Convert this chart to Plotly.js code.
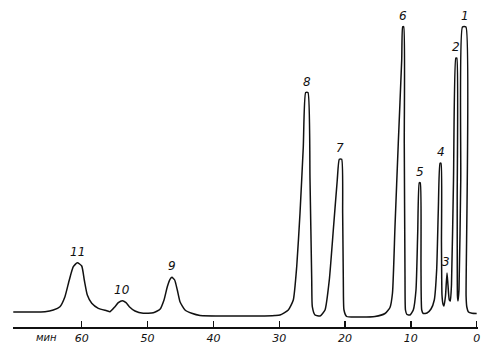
<!DOCTYPE html>
<html>
<head>
<meta charset="utf-8">
<script src="https://cdn.plot.ly/plotly-3.0.1.min.js"></script>
<style>
html,body{margin:0;padding:0;background:#fff;}
#chart{width:493px;height:349px;}
</style>
</head>
<body>
<div id="chart"></div>
<script>
// Retention time (min) of the traced detector signal
var timeMin = [70.4, 67.86, 65.58, 64.32, 63.31, 62.55, 61.89, 61.28, 60.67, 60.0, 59.61, 59.15, 58.48, 57.48, 56.21, 55.70,
  54.95, 54.44, 53.83, 53.27, 52.77, 51.91, 50.65, 49.13, 48.11, 47.50, 47.0, 46.59, 46.29, 45.88, 45.48, 45.07, 44.31,
  43.29, 42.03, 37.47, 32.92, 30.64, 29.88, 28.62, 27.86, 27.34, 26.84, 26.34, 25.98, 25.63, 25.32, 25.06, 24.97, 24.56,
  23.80, 23.04, 22.39, 21.78, 21.18, 20.87, 20.51, 20.36, 20.26, 20.16, 19.75, 17.73, 15.45, 13.93, 13.17, 12.79, 12.41,
  11.91, 11.39, 11.24, 11.09, 11.0, 10.89, 10.82, 10.59, 10.13, 9.63, 9.22, 8.96, 8.72, 8.57, 8.46, 8.35, 8.11, 7.55,
  6.94, 6.44, 6.08, 5.83, 5.57, 5.42, 5.35, 5.27, 5.12, 4.97, 4.74, 4.51, 4.36, 4.16, 4.01, 3.83, 3.52, 3.17, 3.02,
  2.96, 2.92, 2.84, 2.69, 2.42, 2.16, 1.63, 1.61, 1.50, 1.25, 0.71, 0.0];
// Detector signal (arbitrary units)
var signal = [15, 15, 15.3, 17, 20.3, 30.3, 47, 60.3, 64.3, 61, 47, 32, 23.7, 18.7, 16.3, 15.3,
  20.3, 24.3, 26.3, 24.3, 20.3, 16, 13.7, 14.3, 17.7, 27, 40.3, 47.7, 49.7, 47, 37, 25.3, 17,
  13.7, 11.5, 11, 11, 11.5, 12, 17, 27, 60.3, 113.7, 180.3, 234.5, 234.5, 147, 47, 20.3, 12,
  11, 17, 47, 97, 147, 167.7, 167.7, 113.7, 47, 17, 10.5, 10, 10.5, 13.5, 19.5, 34, 100.3,
  183.7, 267, 300.3, 300.3, 183.7, 50.3, 17, 12.5, 12, 17, 37, 93.7, 144.3, 144.3, 60.3, 17, 13.5, 14,
  18, 27, 57, 117, 163.7, 163.7, 84, 32, 23, 21, 31, 54, 42, 27, 26, 42, 147, 269, 269,
  127, 31, 26, 37, 147, 300, 300, 31, 20, 15, 13.7, 13.5];

// Peak numbers and apex positions
var peakLabels = ['1', '2', '3', '4', '5', '6', '7', '8', '9', '10', '11'];
var peakTimes = [1.85, 3.12, 4.6, 5.47, 8.65, 11.17, 20.7, 25.8, 46.3, 53.85, 60.67];
var peakHeights = [300, 269, 54, 164, 144, 300, 168, 234.5, 50, 26.3, 64.3];

// Axis ticks
var tickVals = [60, 50, 40, 30, 20, 10, 0];
var tickText = ['60', '50', '40', '30', '20', '10', '0'];
var unitLabel = 'мин';

var FONT = 'DejaVu Sans, Liberation Sans, sans-serif';

var annotations = peakLabels.map(function (lab, i) {
  return {
    x: peakTimes[i], y: peakHeights[i], xref: 'x', yref: 'y',
    text: lab, showarrow: false, yanchor: 'middle', yshift: 11,
    font: {family: FONT, size: 12, color: '#111', style: 'italic'}
  };
});
annotations.push({
  x: 0.045, y: 0, xref: 'paper', yref: 'paper', yanchor: 'top', yshift: -3,
  text: unitLabel, showarrow: false,
  font: {family: FONT, size: 10, color: '#111', style: 'italic'}
});

var trace = {
  x: timeMin, y: signal, type: 'scatter', mode: 'lines',
  line: {color: '#111', width: 1.5, shape: 'spline', smoothing: 0.5},
  hoverinfo: 'skip'
};

var layout = {
  width: 493, height: 349,
  margin: {l: 13, r: 15, t: 10, b: 22, pad: 0},
  paper_bgcolor: '#fff', plot_bgcolor: '#fff',
  showlegend: false,
  xaxis: {
    range: [70.44, -0.2], autorange: false,
    tickmode: 'array', tickvals: tickVals, ticktext: tickText,
    ticks: 'inside', ticklen: 6, tickwidth: 1.3, tickcolor: '#111',
    showline: true, linecolor: '#111', linewidth: 1.6,
    showgrid: false, zeroline: false,
    tickfont: {family: FONT, size: 11, color: '#111', style: 'italic'}
  },
  yaxis: {
    range: [0, 317], autorange: false,
    visible: false, showgrid: false, zeroline: false
  },
  annotations: annotations
};

Plotly.newPlot('chart', [trace], layout, {staticPlot: true, displayModeBar: false});
</script>
</body>
</html>
